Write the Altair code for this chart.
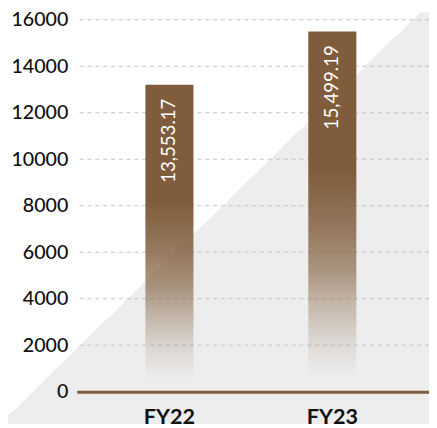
import altair as alt
import pandas as pd

# Data
categories = ["FY22", "FY23"]
bar_values = [13200, 15500]          # bar heights as drawn
bar_labels = ["13,553.17", "15,499.19"]  # printed labels
grid_ticks = [2000, 4000, 6000, 8000, 10000, 12000, 14000, 16000]
axis_ticks = [0, 2000, 4000, 6000, 8000, 10000, 12000, 14000, 16000]

BROWN = "#7f5c3b"
W, H = 359, 379
PAD = {"left": 70, "top": 8, "right": 0, "bottom": 33}

bars_df = pd.DataFrame({"cat": categories, "value": bar_values, "label": bar_labels})
grid_df = pd.DataFrame({"value": grid_ticks})

yscale = alt.Scale(domain=[0, 16000], nice=False, zero=True)
xscale = alt.Scale(paddingInner=0.705, paddingOuter=0.434, align=0.486)

yaxis = alt.Axis(values=axis_ticks, format="d", labelFont="Lato", labelFontSize=20,
                 labelFontWeight=500, labelColor="#111111",
                 labelPadding=9, ticks=False, domain=False, grid=False,
                 zindex=1, title=None)

background = alt.Chart(alt.InlineData(values=[{"k": 1}])).mark_rect(
    fill=alt.Gradient(
        gradient="linear", x1=0, y1=0, x2=1, y2=1,
        stops=[
            alt.GradientStop(offset=0, color="#ffffff"),
            alt.GradientStop(offset=0.49, color="#ffffff"),
            alt.GradientStop(offset=0.4901, color="#ededed"),
            alt.GradientStop(offset=1, color="#ededed"),
        ],
    ),
    strokeWidth=0,
).encode(
    x=alt.value(-PAD["left"]), x2=alt.value(W + PAD["right"]),
    y=alt.value(-PAD["top"]), y2=alt.value(H + PAD["bottom"]),
)

grid = alt.Chart(grid_df).mark_rule(
    color="#c2c2c2", strokeWidth=1, strokeDash=[4, 4]
).encode(y=alt.Y("value:Q", scale=yscale, axis=yaxis, title=None))

bars = alt.Chart(bars_df).mark_bar(
    fill=alt.Gradient(
        gradient="linear", x1=0, y1=0, x2=0, y2=1,
        stops=[
            alt.GradientStop(offset=0, color="rgba(127,92,59,1)"),
            alt.GradientStop(offset=0.38, color="rgba(127,92,59,1)"),
            alt.GradientStop(offset=0.54, color="rgba(127,92,59,0.82)"),
            alt.GradientStop(offset=0.66, color="rgba(127,92,59,0.62)"),
            alt.GradientStop(offset=0.76, color="rgba(127,92,59,0.37)"),
            alt.GradientStop(offset=0.86, color="rgba(127,92,59,0.15)"),
            alt.GradientStop(offset=0.96, color="rgba(127,92,59,0)"),
            alt.GradientStop(offset=1, color="rgba(127,92,59,0)"),
        ],
    ),
    strokeWidth=0,
).encode(
    x=alt.X("cat:N", scale=xscale, sort=categories, title=None,
            axis=alt.Axis(labelAngle=0, labelFont="Lato", labelFontSize=22,
                          labelFontWeight="bold", labelColor="#111111",
                          labelPadding=15, ticks=False, domain=True,
                          domainColor=BROWN, domainWidth=3, grid=False,
                          zindex=1)),
    y=alt.Y("value:Q", scale=yscale, axis=yaxis, title=None),
)

labels = alt.Chart(bars_df).mark_text(
    angle=270, align="right", baseline="middle", dx=-14,
    color="white", font="Lato", fontSize=19, fontWeight="normal",
).encode(
    x=alt.X("cat:N", scale=xscale, sort=categories),
    y=alt.Y("value:Q", scale=yscale),
    text="label:N",
)

chart = alt.layer(background, grid, bars, labels).properties(
    width=W, height=H, padding=PAD,
    autosize=alt.AutoSizeParams(type="none"),
).configure_view(stroke=None).configure(background="white")

chart.save("out.html", embed_options={"renderer": "svg", "actions": False})
